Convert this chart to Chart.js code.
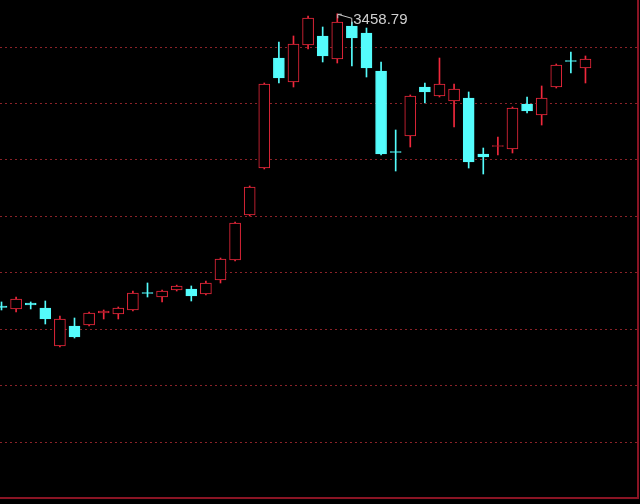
<!DOCTYPE html>
<html>
<head>
<meta charset="utf-8">
<script src="https://cdn.jsdelivr.net/npm/chart.js@4.4.1/dist/chart.umd.min.js"></script>
<style>
  html, body { margin: 0; padding: 0; background: #000; }
  #wrap { width: 640px; height: 504px; position: relative; background: #000; }
</style>
</head>
<body>
<div id="wrap"><canvas id="c" width="640" height="504"></canvas></div>
<script>
// Trading days (Shanghai Composite, 2020)
const dates = ['06-08','06-09','06-10','06-11','06-12','06-15','06-16','06-17','06-18','06-19',
  '06-22','06-23','06-24','06-29','06-30','07-01','07-02','07-03','07-06','07-07',
  '07-08','07-09','07-10','07-13','07-14','07-15','07-16','07-17','07-20','07-21',
  '07-22','07-23','07-24','07-27','07-28','07-29','07-30','07-31','08-03','08-04','08-05'];
const open  = [2941.6,2936.3,2946.9,2938.0,2870.8,2906.2,2907.9,2929.2,2927.4,2934.5,
  2965.5,2957.5,2969.9,2971.7,2962.8,2987.6,3023.0,3102.6,3185.8,3380.5,
  3338.1,3403.6,3419.5,3378.8,3437.2,3424.8,3357.5,3215.0,3242.5,3329.2,
  3313.3,3304.4,3309.7,3210.6,3223.9,3219.5,3299.1,3279.6,3329.2,3376.1,3362.8];
const high  = [2948.7,2957.5,2948.7,2950.4,2923.9,2920.3,2931.0,2934.5,2939.8,2968.1,
  2982.3,2969.9,2978.5,2977.0,2985.8,3026.5,3090.3,3154.0,3336.3,3408.9,
  3419.5,3454.9,3435.4,3458.79,3444.3,3433.6,3373.5,3253.1,3315.1,3336.3,
  3380.5,3334.5,3320.4,3221.2,3240.7,3293.8,3311.5,3331.0,3369.9,3391.2,3384.1];
const low   = [2934.5,2931.0,2936.3,2909.7,2869.0,2884.9,2906.2,2918.6,2918.6,2932.7,
  2957.5,2948.7,2968.1,2950.4,2961.0,2982.3,3021.2,3100.9,3184.1,3336.3,
  3329.2,3396.5,3373.5,3371.7,3366.4,3346.9,3208.9,3180.5,3223.0,3300.9,
  3311.5,3258.4,3185.8,3175.2,3208.9,3212.4,3283.2,3261.9,3327.4,3354.0,3336.3];
const close = [2938.9,2954.0,2943.4,2918.6,2918.6,2886.7,2929.2,2932.7,2938.0,2964.6,
  2963.7,2968.1,2977.0,2959.3,2982.3,3024.8,3088.5,3152.2,3334.5,3345.1,
  3405.3,3451.3,3384.1,3444.3,3415.9,3362.8,3210.6,3213.3,3313.3,3320.4,
  3334.5,3325.7,3196.5,3205.3,3225.7,3292.0,3286.7,3309.7,3368.1,3374.3,3378.8];
const priceTicks = [2700, 2800, 2900, 3000, 3100, 3200, 3300, 3400];
const peakLabel = '3458.79';

const UP = '#f0283c';
const DOWN = '#54fcfc';
const isUp = i => close[i] >= open[i];

const bodies = dates.map((d, i) => ({ x: i, y: [open[i], close[i]] }));
const wicks = dates.map((d, i) => ({ x: i, y: [low[i], high[i]] }));
const peakIndex = high.indexOf(Math.max(...high));

const framePlugin = {
  id: 'frame',
  afterDraw(chart) {
    const { ctx, chartArea: a, scales } = chart;
    ctx.save();
    // bottom and right borders
    ctx.strokeStyle = '#8a1424';
    ctx.lineWidth = 2;
    ctx.beginPath();
    ctx.moveTo(0, a.bottom);
    ctx.lineTo(a.right + 1, a.bottom);
    ctx.lineTo(a.right + 1, 0);
    ctx.stroke();
    // peak annotation
    const px = scales.x.getPixelForValue(peakIndex);
    const py = scales.y.getPixelForValue(high[peakIndex]);
    ctx.strokeStyle = '#c8c8c8';
    ctx.lineWidth = 1;
    ctx.beginPath();
    ctx.moveTo(px + 0.5, py + 0.5); ctx.lineTo(px + 4.5, py + 0.5);
    ctx.moveTo(px + 0.5, py + 0.5); ctx.lineTo(px + 0.5, py + 4.5);
    ctx.moveTo(px + 0.5, py + 0.5); ctx.lineTo(px + 14.5, py + 4.5);
    ctx.lineTo(px + 14.5, py + 10.5);
    ctx.stroke();
    ctx.fillStyle = '#d0d0d0';
    ctx.font = '15px "Liberation Sans", Arial, sans-serif';
    ctx.textBaseline = 'middle';
    ctx.fillText(peakLabel, px + 16, py + 6);
    ctx.restore();
  }
};

new Chart(document.getElementById('c'), {
  type: 'bar',
  data: {
    datasets: [
      {
        label: 'body',
        data: bodies,
        order: 1,
        grouped: false,
        barThickness: 11,
        borderWidth: 1,
        borderSkipped: false,
        backgroundColor: ctx => isUp(ctx.dataIndex) ? '#000000' : DOWN,
        borderColor: ctx => isUp(ctx.dataIndex) ? UP : DOWN
      },
      {
        label: 'wick',
        data: wicks,
        order: 2,
        grouped: false,
        barThickness: 1,
        borderWidth: 0,
        backgroundColor: ctx => isUp(ctx.dataIndex) ? UP : DOWN
      }
    ]
  },
  options: {
    responsive: false,
    animation: false,
    devicePixelRatio: 1,
    layout: { padding: { left: 0, top: 0, right: 3, bottom: 6 } },
    plugins: { legend: { display: false }, tooltip: { enabled: false } },
    scales: {
      x: {
        type: 'linear',
        display: false,
        offset: false,
        min: -0.103,
        max: 43.53
      },
      y: {
        type: 'linear',
        min: 2601.7,
        max: 3483.2,
        afterBuildTicks: s => { s.ticks = priceTicks.map(v => ({ value: v })); },
        ticks: { display: false },
        border: { display: false, dash: [2, 3] },
        grid: {
          drawTicks: false,
          color: '#8a2228',
          lineWidth: 1
        }
      }
    }
  },
  plugins: [framePlugin]
});
</script>
</body>
</html>
